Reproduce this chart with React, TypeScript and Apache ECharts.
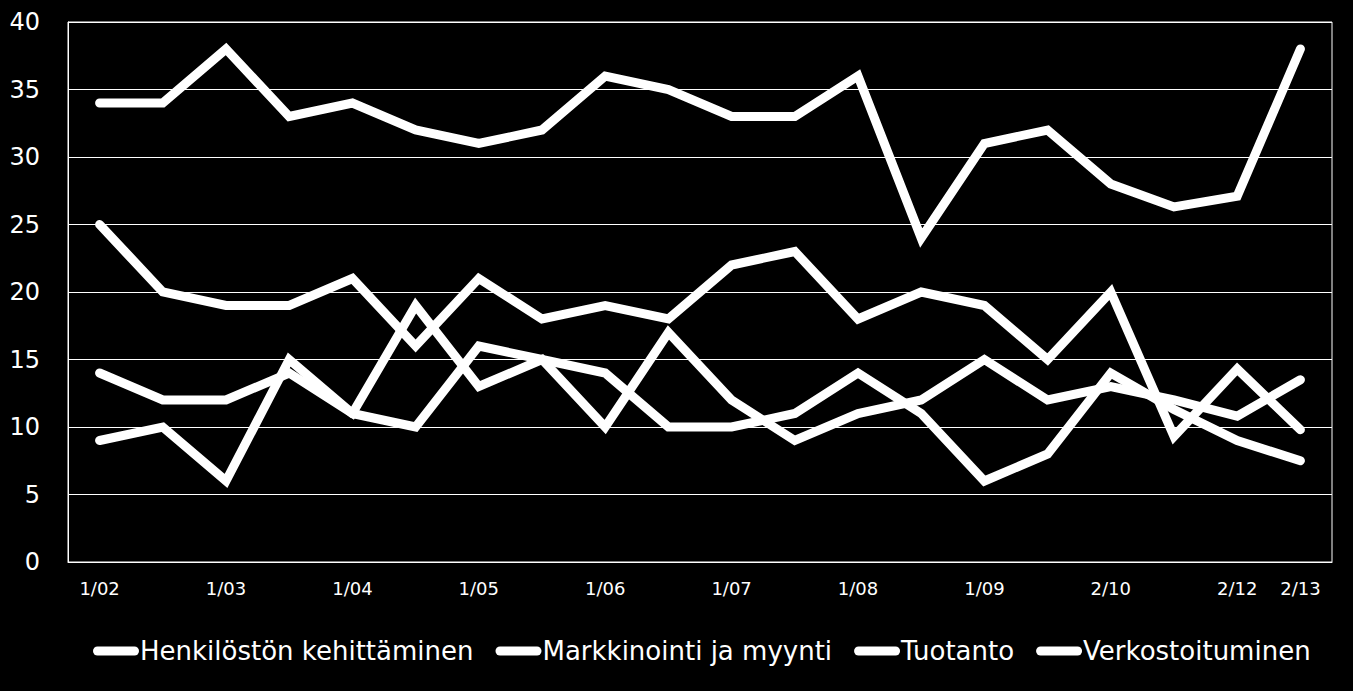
import React, { useRef, useEffect } from 'react'
import * as echarts from 'echarts'

// kyselykierrokset (vain osa nimetty akselilla)
const periods = ['1/02', '', '1/03', '', '1/04', '', '1/05', '', '1/06', '', '1/07', '', '1/08', '', '1/09', '', '2/10', '', '2/12', '2/13']

const henkilosto = [25, 20, 19, 19, 21, 16, 21, 18, 19, 18, 22, 23, 18, 20, 19, 15, 20, 9.3, 14.3, 9.8]
const markkinointi = [34, 34, 38, 33, 34, 32, 31, 32, 36, 35, 33, 33, 36, 24, 31, 32, 28, 26.3, 27.1, 38]
const tuotanto = [14, 12, 12, 14, 11, 19, 13, 15, 10, 17, 12, 9, 11, 12, 15, 12, 13, 12, 10.8, 13.5]
const verkosto = [9, 10, 6, 15, 11, 10, 16, 15, 14, 10, 10, 11, 14, 11, 6, 8, 14, 11.3, 9, 7.5]

const seriesNames = ['Henkilöstön kehittäminen', 'Markkinointi ja myynti', 'Tuotanto', 'Verkostoituminen']
const seriesData = [henkilosto, markkinointi, tuotanto, verkosto]

const FONT = '"DejaVu Sans", sans-serif'

// paksu pyöreäpäinen viiva legendaan
const LEGEND_ICON = 'path://M4.5,0 L41.5,0 A4.5,4.5 0 0 1 41.5,9 L4.5,9 A4.5,4.5 0 0 1 4.5,0 Z'

const App: React.FC = () => {
  const chartRef = useRef<HTMLDivElement>(null)

  useEffect(() => {
    if (!chartRef.current) return
    document.body.style.margin = '0'
    const chart = echarts.init(chartRef.current, undefined, { renderer: 'svg' })

    const option = {
      animation: false,
      backgroundColor: '#000',
      textStyle: { fontFamily: FONT },
      grid: {
        left: 68,
        right: 21,
        top: 22,
        bottom: 129,
        show: true,
        borderColor: '#fff',
        borderWidth: 1,
      },
      legend: {
        data: seriesNames.map((name) => ({ name, icon: LEGEND_ICON })),
        left: 88,
        top: 633,
        itemGap: 22,
        itemWidth: 46,
        itemHeight: 9,
        textStyle: { color: '#fff', fontSize: 26, fontFamily: FONT, padding: [0, 0, 0, -4] },
      },
      xAxis: {
        type: 'category',
        data: periods,
        boundaryGap: true,
        axisLine: { lineStyle: { color: '#fff', width: 1 } },
        axisTick: { show: false },
        axisLabel: { interval: 0, color: '#fff', fontSize: 18, margin: 17, fontFamily: FONT },
      },
      yAxis: {
        type: 'value',
        min: 0,
        max: 40,
        interval: 5,
        axisLine: { show: true, lineStyle: { color: '#fff', width: 1 } },
        axisTick: { show: false },
        axisLabel: { color: '#fff', fontSize: 24, margin: 28, fontFamily: FONT },
        splitLine: { lineStyle: { color: '#fff', width: 1 } },
      },
      series: seriesNames.map((name, i) => ({
        name,
        type: 'line',
        data: seriesData[i],
        symbol: 'none',
        showSymbol: false,
        color: '#fff',
        lineStyle: { color: '#fff', width: 9, cap: 'round', join: 'miter' },
      })),
    }

    chart.setOption(option)

    const handleResize = () => chart.resize()
    window.addEventListener('resize', handleResize)
    return () => {
      window.removeEventListener('resize', handleResize)
      chart.dispose()
    }
  }, [])

  return <div ref={chartRef} style={{ width: '100vw', height: '100vh', background: '#000' }} />
}

export default App
